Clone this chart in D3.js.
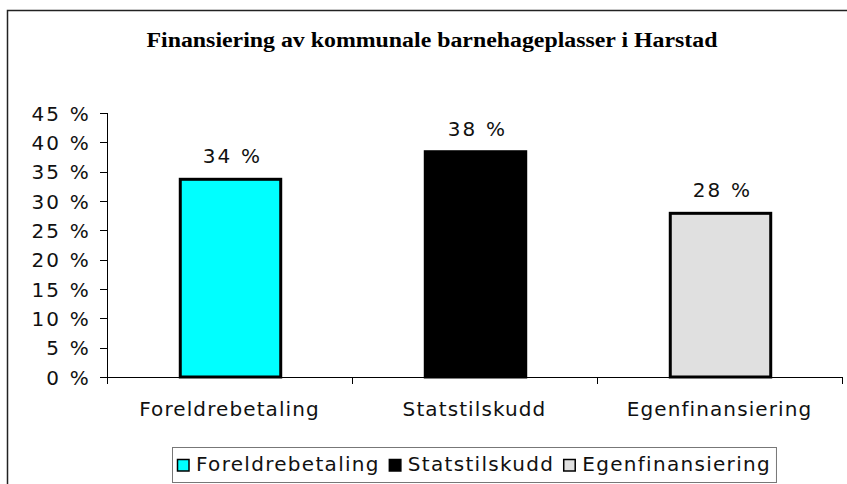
<!DOCTYPE html>
<meta charset="utf-8">
<html lang="no">
<head>
    <title>Finansiering av kommunale barnehageplasser i Harstad</title>
    <script src="https://d3js.org/d3.v7.min.js"></script>
    <style>
        body {
            margin: 0;
            overflow: hidden;
            background-color: #fff;
        }
        svg {
            display: block;
        }
        .axis text {
            font: 20px "DejaVu Sans", sans-serif;
            fill: #111;
        }
        .axis path,
        .axis line {
            stroke: #000;
            stroke-width: 1;
            shape-rendering: crispEdges;
        }
    </style>
</head>
<body>
    <svg width="847" height="484"></svg>
    <script>
        // Data
        var categories = ["Foreldrebetaling", "Statstilskudd", "Egenfinansiering"];
        var values = [33.7, 38.4, 27.9];
        var valueLabels = ["34 %", "38 %", "28 %"];
        var colors = ["#00FFFF", "#000000", "#E0E0E0"];
        var yTicks = [0, 5, 10, 15, 20, 25, 30, 35, 40, 45];

        var svg = d3.select("svg");

        // Outer chart frame (runs off the right and bottom edge)
        svg.append("rect")
            .attr("x", 7.5)
            .attr("y", 10.5)
            .attr("width", 900)
            .attr("height", 600)
            .attr("fill", "none")
            .attr("stroke", "#222")
            .attr("stroke-width", 1.5);

        // Title
        svg.append("text")
            .attr("x", 432)
            .attr("y", 47)
            .attr("text-anchor", "middle")
            .attr("textLength", 571)
            .attr("lengthAdjust", "spacingAndGlyphs")
            .style("font-family", "'Liberation Serif', 'Times New Roman', serif")
            .style("font-weight", "bold")
            .style("font-size", "20px")
            .text("Finansiering av kommunale barnehageplasser i Harstad");

        var x0 = d3.scaleBand()
            .domain(categories)
            .range([107, 842])
            .padding(0);

        var y = d3.scaleLinear()
            .domain([0, 45])
            .range([377, 113]);

        var barW = x0.bandwidth() * 0.41;

        // Y axis
        var yAxis = svg.append("g")
            .attr("class", "axis")
            .attr("transform", "translate(107,0)")
            .call(d3.axisLeft(y)
                .tickValues(yTicks)
                .tickSize(7)
                .tickPadding(9)
                .tickFormat(function(d) { return d + " %"; }));
        yAxis.select(".domain").attr("d", "M0," + y(45) + "V" + y(0));
        yAxis.selectAll("text").attr("dy", "0.36em").style("letter-spacing", "2.2px");

        // X axis with ticks at category boundaries
        var xAxis = svg.append("g")
            .attr("class", "axis")
            .attr("transform", "translate(0," + y(0) + ")");
        xAxis.append("line")
            .attr("x1", 107).attr("x2", 842)
            .attr("y1", 0).attr("y2", 0);
        xAxis.selectAll(".sep")
            .data(categories.concat(["end"]))
            .enter().append("line")
            .attr("class", "sep")
            .attr("x1", function(d, i) { return i < 3 ? x0(d) : x0.range()[1]; })
            .attr("x2", function(d, i) { return i < 3 ? x0(d) : x0.range()[1]; })
            .attr("y1", 0).attr("y2", 7);
        xAxis.selectAll(".cat")
            .data(categories)
            .enter().append("text")
            .attr("class", "cat")
            .attr("x", function(d) { return x0(d) + x0.bandwidth() / 2; })
            .attr("y", 39)
            .attr("text-anchor", "middle")
            .style("letter-spacing", "1.1px")
            .text(function(d) { return d; });

        // Bars
        svg.selectAll(".bar")
            .data(values)
            .enter().append("rect")
            .attr("class", "bar")
            .attr("x", function(d, i) { return x0(categories[i]) + (x0.bandwidth() - barW) / 2 + 1; })
            .attr("y", function(d) { return y(d); })
            .attr("width", barW)
            .attr("height", function(d) { return y(0) - y(d); })
            .attr("fill", function(d, i) { return colors[i]; })
            .attr("stroke", "#000")
            .attr("stroke-width", 3);

        // Value labels
        svg.selectAll(".val")
            .data(values)
            .enter().append("text")
            .attr("class", "val")
            .attr("x", function(d, i) { return x0(categories[i]) + x0.bandwidth() / 2 + 3; })
            .attr("y", function(d) { return y(d) - 16; })
            .attr("text-anchor", "middle")
            .style("font", "20px 'DejaVu Sans', sans-serif")
            .style("letter-spacing", "2.2px")
            .style("fill", "#111")
            .text(function(d, i) { return valueLabels[i]; });

        // Legend
        var legend = svg.append("g");
        var legendBox = legend.append("rect")
            .attr("x", 172.5)
            .attr("y", 447.5)
            .attr("height", 35)
            .attr("fill", "#fff")
            .attr("stroke", "#777")
            .attr("stroke-width", 1);

        var lx = 177;
        categories.forEach(function(c, i) {
            legend.append("rect")
                .attr("x", lx + 0.5)
                .attr("y", 459.5)
                .attr("width", 11.5)
                .attr("height", 11.5)
                .attr("fill", colors[i])
                .attr("stroke", "#000")
                .attr("stroke-width", 1.5);
            var t = legend.append("text")
                .attr("x", lx + 19)
                .attr("y", 471)
                .style("font", "20px 'DejaVu Sans', sans-serif")
                .style("letter-spacing", "1.3px")
                .style("fill", "#111")
                .text(c);
            lx += 19 + t.node().getComputedTextLength() + 9;
        });
        legendBox.attr("width", lx - 172 - 4);
    </script>
</body>
</html>
